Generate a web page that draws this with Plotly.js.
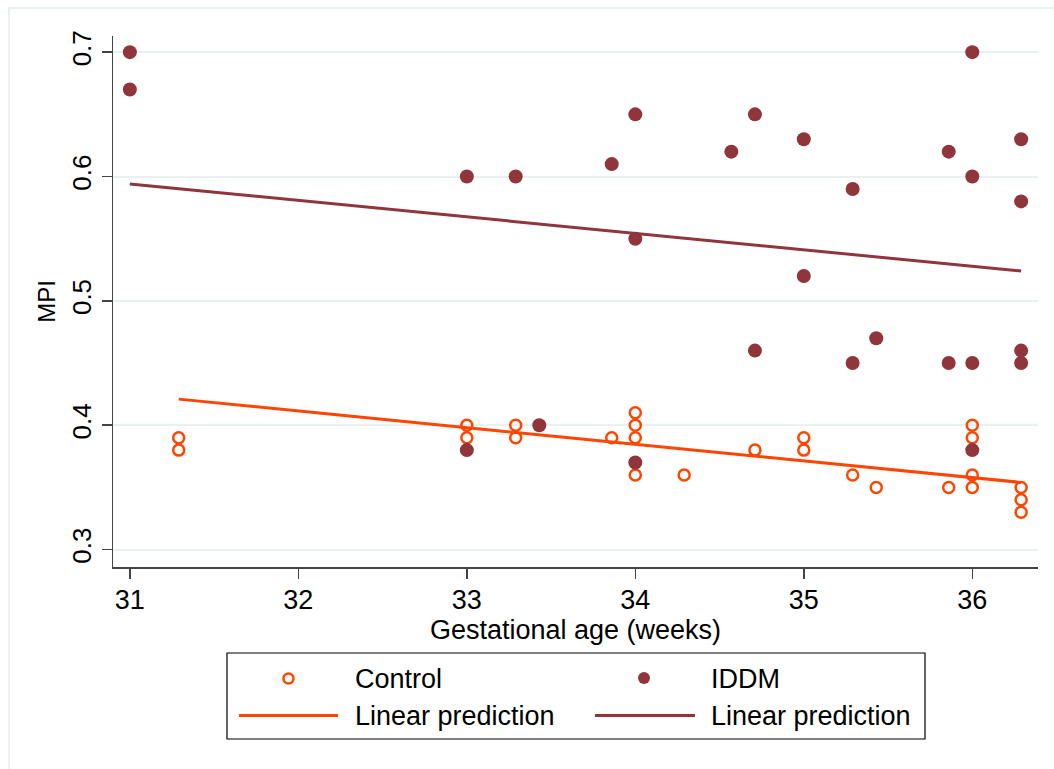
<!DOCTYPE html>
<html>
<head>
<meta charset="utf-8">
<script src="https://cdn.plot.ly/plotly-3.0.1.min.js"></script>
<style>html,body{margin:0;padding:0;background:#fff;}#chart{width:1054px;height:769px;}</style>
</head>
<body>
<div id="chart"></div>
<script>
// Gestational age (weeks) and MPI values
const controlX = [31.29,31.29,33,33,33.29,33.29,33.86,34,34,34,34,34.29,34.71,35,35,35.29,35.43,35.86,36,36,36,36,36.29,36.29,36.29];
const controlY = [0.39,0.38,0.40,0.39,0.40,0.39,0.39,0.41,0.40,0.39,0.36,0.36,0.38,0.39,0.38,0.36,0.35,0.35,0.40,0.39,0.36,0.35,0.35,0.34,0.33];
const iddmX = [31,31,33,33,33.29,33.43,33.86,34,34,34,34.57,34.71,34.71,35,35,35.29,35.29,35.43,35.86,35.86,36,36,36,36,36.29,36.29,36.29,36.29];
const iddmY = [0.70,0.67,0.60,0.38,0.60,0.40,0.61,0.65,0.55,0.37,0.62,0.65,0.46,0.63,0.52,0.59,0.45,0.47,0.62,0.45,0.70,0.60,0.45,0.38,0.63,0.58,0.46,0.45];
// Linear prediction end points
const controlFitX = [31.29, 36.29];
const controlFitY = [0.421, 0.354];
const iddmFitX = [31, 36.29];
const iddmFitY = [0.594, 0.524];
// Tick labels
const xTicks = [31,32,33,34,35,36];
const yTicks = [0.3,0.4,0.5,0.6,0.7];
const yTickText = ["0.3","0.4","0.5","0.6","0.7"];
const legendLabels = ["Control","IDDM","Linear prediction","Linear prediction"];

const ORANGE = "#FF4500";
const MAROON = "#90353B";
const GRID = "#E8F0F2";
const FONT = "Liberation Sans, Arial, sans-serif";

const W = 1054, H = 769;
const M = {l:113, r:16, t:36, b:202};
const PW = W - M.l - M.r, PH = H - M.t - M.b;
const px = x => (x - M.l) / PW;
const py = y => (H - M.b - y) / PH;

const traces = [
  {x: controlX, y: controlY, type: "scatter", mode: "markers", name: legendLabels[0],
   marker: {symbol: "circle-open", size: 11, color: ORANGE, line: {width: 2.5, color: ORANGE}}},
  {x: iddmX, y: iddmY, type: "scatter", mode: "markers", name: legendLabels[1],
   marker: {symbol: "circle", size: 14, color: MAROON}},
  {x: controlFitX, y: controlFitY, type: "scatter", mode: "lines", name: legendLabels[2],
   line: {color: ORANGE, width: 3}},
  {x: iddmFitX, y: iddmFitY, type: "scatter", mode: "lines", name: legendLabels[3],
   line: {color: MAROON, width: 3}}
];

const shapes = [
  // outer graph region frame
  {type: "rect", xref: "paper", yref: "paper", x0: px(9), x1: px(1060), y0: py(8), y1: py(780),
   line: {color: GRID, width: 2}, layer: "below"},
  // legend box
  {type: "rect", xref: "paper", yref: "paper", x0: px(227), x1: px(925), y0: py(653), y1: py(739),
   line: {color: "#000", width: 1.2}, fillcolor: "rgba(0,0,0,0)"},
  // legend symbols
  {type: "circle", xref: "paper", yref: "paper", x0: px(283.5), x1: px(293.5), y0: py(673.5), y1: py(683.5),
   line: {color: ORANGE, width: 2.5}},
  {type: "circle", xref: "paper", yref: "paper", x0: px(638), x1: px(650), y0: py(672), y1: py(684),
   fillcolor: MAROON, line: {color: MAROON, width: 0}},
  {type: "line", xref: "paper", yref: "paper", x0: px(239), x1: px(338), y0: py(715.5), y1: py(715.5),
   line: {color: ORANGE, width: 3}},
  {type: "line", xref: "paper", yref: "paper", x0: px(595), x1: px(695), y0: py(715.5), y1: py(715.5),
   line: {color: MAROON, width: 3}}
];

const legFont = {family: FONT, size: 27, color: "#000"};
const annotations = [
  {text: legendLabels[0], x: px(353), y: py(679), xanchor: "left", yanchor: "middle"},
  {text: legendLabels[1], x: px(709), y: py(679), xanchor: "left", yanchor: "middle"},
  {text: legendLabels[2], x: px(353), y: py(716), xanchor: "left", yanchor: "middle"},
  {text: legendLabels[3], x: px(709), y: py(716), xanchor: "left", yanchor: "middle"}
].map(a => Object.assign(a, {xref: "paper", yref: "paper", showarrow: false, font: legFont}));

const layout = {
  width: W, height: H,
  margin: M,
  paper_bgcolor: "#fff", plot_bgcolor: "#fff",
  showlegend: false,
  font: {family: FONT, color: "#000"},
  xaxis: {
    range: [30.9, 36.39], tickmode: "array", tickvals: xTicks, ticktext: xTicks.map(String),
    showgrid: false, zeroline: false, showline: true, linecolor: "#444", linewidth: 1.5,
    ticks: "outside", ticklen: 10, tickwidth: 1.5, tickcolor: "#444", ticklabelstandoff: -2,
    tickfont: {family: FONT, size: 27, color: "#000"},
    title: {text: "Gestational age (weeks)", font: {family: FONT, size: 27, color: "#000"}, standoff: 0}
  },
  yaxis: {
    range: [0.286, 0.713], tickmode: "array", tickvals: yTicks, ticktext: yTickText,
    showgrid: true, gridcolor: GRID, gridwidth: 2, zeroline: false,
    showline: true, linecolor: "#444", linewidth: 1.5,
    ticks: "outside", ticklen: 10, tickwidth: 1.5, tickcolor: "#444", tickangle: -90,
    tickfont: {family: FONT, size: 26, color: "#000"},
    title: {text: "MPI", font: {family: FONT, size: 24, color: "#000"}, standoff: 4}
  },
  shapes: shapes,
  annotations: annotations
};

Plotly.newPlot("chart", traces, layout, {displayModeBar: false, staticPlot: true});
</script>
</body>
</html>
